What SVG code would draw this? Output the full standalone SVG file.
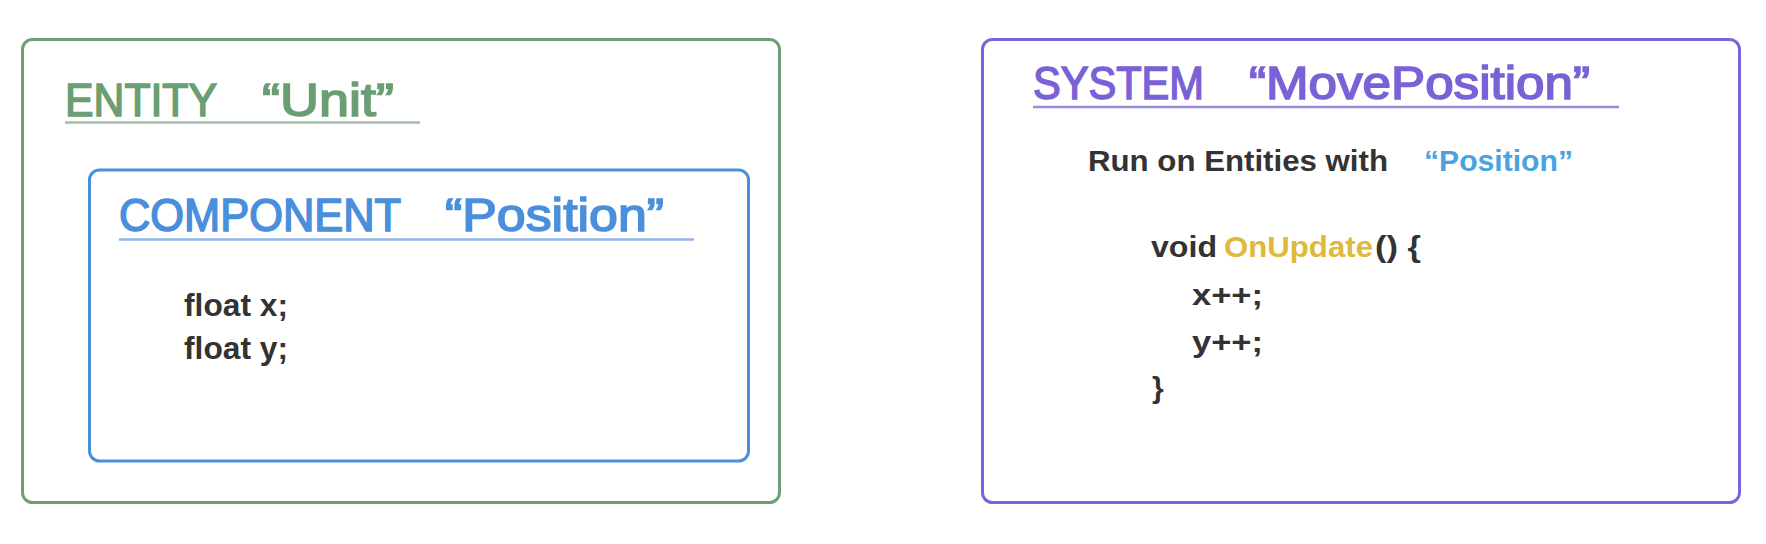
<svg xmlns="http://www.w3.org/2000/svg" width="1766" height="544" viewBox="0 0 1766 544">
<style>
.box{fill:none;stroke-width:3}
.title{font-family:"Liberation Sans",Arial,sans-serif;font-size:46px;font-weight:normal;stroke-width:1.6px}
.body{font-family:"Liberation Sans",Arial,sans-serif;font-weight:bold;fill:#333}
.ul{stroke-width:2.5}
</style>
<rect width="1766" height="544" fill="#ffffff"/>
<g id="entity-unit">
<rect class="box" x="22.5" y="39.5" width="757" height="463" rx="10" stroke="#6b9f74"/>
<text class="title" x="65" y="116" fill="#6a9e73" stroke="#6a9e73" textLength="152" lengthAdjust="spacingAndGlyphs">ENTITY</text>
<text class="title" x="262" y="116" fill="#6a9e73" stroke="#6a9e73" textLength="132" lengthAdjust="spacingAndGlyphs">“Unit”</text>
<line class="ul" x1="65" y1="122.5" x2="420" y2="122.5" stroke="#a3bfa8"/>
</g>
<g id="component-position">
<rect class="box" x="89.5" y="170" width="659" height="291" rx="10" stroke="#4a8fdc"/>
<text class="title" x="119" y="231" fill="#4a8fdc" stroke="#4a8fdc" textLength="282" lengthAdjust="spacingAndGlyphs">COMPONENT</text>
<text class="title" x="445" y="231" fill="#4a8fdc" stroke="#4a8fdc" textLength="219" lengthAdjust="spacingAndGlyphs">“Position”</text>
<line class="ul" x1="119" y1="239.5" x2="694" y2="239.5" stroke="#8cb8e8"/>
<text class="body" x="184" y="316" font-size="32" textLength="104" lengthAdjust="spacingAndGlyphs">float x;</text>
<text class="body" x="184" y="359" font-size="32" textLength="104" lengthAdjust="spacingAndGlyphs">float y;</text>
</g>
<g id="system-moveposition">
<rect class="box" x="982.5" y="39.5" width="757" height="463" rx="10" stroke="#7b64d8"/>
<text class="title" x="1033" y="99" fill="#7a62d6" stroke="#7a62d6" textLength="171" lengthAdjust="spacingAndGlyphs">SYSTEM</text>
<text class="title" x="1249" y="99" fill="#7a62d6" stroke="#7a62d6" textLength="341" lengthAdjust="spacingAndGlyphs">“MovePosition”</text>
<line class="ul" x1="1033" y1="107" x2="1619" y2="107" stroke="#9a8cdc"/>
<text class="body" x="1088" y="171" font-size="30" textLength="300" lengthAdjust="spacingAndGlyphs">Run on Entities with</text>
<text class="body" x="1424" y="171" font-size="30" style="fill:#4aa3e0" textLength="149" lengthAdjust="spacingAndGlyphs">“Position”</text>
<text class="body" x="1151" y="257" font-size="30" textLength="66" lengthAdjust="spacingAndGlyphs">void</text>
<text class="body" x="1224" y="257" font-size="30" style="fill:#e0b93a" textLength="149" lengthAdjust="spacingAndGlyphs">OnUpdate</text>
<text class="body" x="1375" y="257" font-size="30" textLength="46" lengthAdjust="spacingAndGlyphs">() {</text>
<text class="body" x="1192" y="305" font-size="30" textLength="71" lengthAdjust="spacingAndGlyphs">x++;</text>
<text class="body" x="1192" y="352" font-size="30" textLength="71" lengthAdjust="spacingAndGlyphs">y++;</text>
<text class="body" x="1152" y="398" font-size="30" font-weight="normal">}</text>
</g>
<g id="connectors"/>
</svg>
